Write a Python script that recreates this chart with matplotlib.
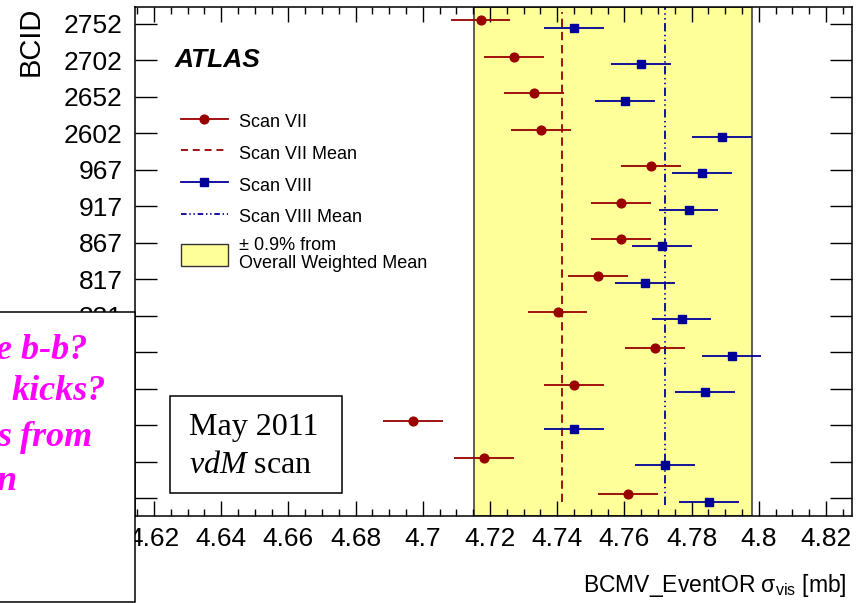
import matplotlib
matplotlib.use('Agg')
import matplotlib.pyplot as plt
from matplotlib import font_manager
from matplotlib.lines import Line2D
from matplotlib.patches import Patch, Rectangle
import numpy as np

# ---------------- data ----------------
bcid_labels = ['81', '131', '181', '231', '281', '331', '817', '867', '917', '967',
               '2602', '2652', '2702', '2752']
scan7 = [4.7610, 4.7182, 4.6971, 4.7451, 4.7691, 4.7401, 4.7522, 4.7591, 4.7591,
         4.7680, 4.7352, 4.7332, 4.7271, 4.7172]
scan7_err = [0.0089, 0.0089, 0.0089, 0.0089, 0.0089, 0.0089, 0.0089, 0.0089, 0.0089,
             0.0089, 0.0089, 0.0089, 0.0089, 0.0089]
scan8 = [4.7851, 4.7720, 4.7451, 4.7840, 4.7919, 4.7770, 4.7661, 4.7712, 4.7791,
         4.7831, 4.7890, 4.7602, 4.7650, 4.7451]
scan8_err = [0.0089, 0.0089, 0.0089, 0.0089, 0.0089, 0.0089, 0.0089, 0.0089, 0.0089,
             0.0089, 0.0089, 0.0089, 0.0089, 0.0089]
scan7_mean = 4.7413
scan8_mean = 4.7721
band_lo, band_hi = 4.7152, 4.7979
xtick_values = [4.62, 4.64, 4.66, 4.68, 4.70, 4.72, 4.74, 4.76, 4.78, 4.80, 4.82]
xtick_labels = ['4.62', '4.64', '4.66', '4.68', '4.7', '4.72', '4.74', '4.76', '4.78', '4.8', '4.82']
legend_labels = ['Scan VII', 'Scan VII Mean', 'Scan VIII', 'Scan VIII Mean',
                 '± 0.9% from\nOverall Weighted Mean']

# ---------------- fonts ----------------
names = {f.name for f in font_manager.fontManager.ttflist}
SANS = 'Liberation Sans' if 'Liberation Sans' in names else 'DejaVu Sans'
SERIF = 'Liberation Serif' if 'Liberation Serif' in names else 'DejaVu Serif'
plt.rcParams['font.family'] = [SANS, 'DejaVu Sans']
plt.rcParams['mathtext.fontset'] = 'custom'
plt.rcParams['mathtext.rm'] = SANS
plt.rcParams['mathtext.it'] = SERIF + ':italic'
plt.rcParams['lines.scale_dashes'] = False

W, H = 865, 603
def fx(px):
    return px / W
def fy(py):
    return 1 - py / H

red = '#990000'
blue = '#000099'
yellow = '#ffff99'

fig = plt.figure(figsize=(W / 100, H / 100), dpi=100)
ax = fig.add_axes([fx(135), fy(516), (852 - 135) / W, (516 - 7) / H])

ypos = np.arange(len(bcid_labels))

ax.axvspan(band_lo, band_hi, facecolor=yellow, edgecolor='#333333', lw=1.1, zorder=0)
ax.plot([scan7_mean, scan7_mean], [-0.1, 13.33], color=red, lw=1.3,
        ls=(0, (6, 3.5)), zorder=2)
ax.plot([scan8_mean, scan8_mean], [-0.2, 13.47], color=blue, lw=1.3,
        ls=(0, (6, 2.5, 1, 2.5, 1, 2.5)), zorder=2)

ax.errorbar(scan7, ypos + 0.1, xerr=scan7_err, fmt='o', color=red, ms=6.3,
            elinewidth=1.3, capsize=0, zorder=3)
ax.errorbar(scan8, ypos - 0.1, xerr=scan8_err, fmt='s', color=blue, ms=6.3,
            elinewidth=1.3, capsize=0, zorder=3)

ax.set_xlim(4.61435, 4.82774)
ax.set_ylim(-0.494, 13.466)
ax.set_xticks(xtick_values)
ax.set_xticklabels(xtick_labels)
ax.set_xticks(np.arange(4.615, 4.8276, 0.005), minor=True)
ax.set_yticks(ypos)
ax.set_yticklabels(bcid_labels)
ax.tick_params(axis='x', which='major', direction='in', length=10.8, width=1.0,
               top=True, bottom=True, labelsize=19, pad=8)
ax.tick_params(axis='x', which='minor', direction='in', length=5.2, width=1.0,
               top=True, bottom=True)
ax.tick_params(axis='y', which='major', direction='in', length=15.8, width=1.0,
               left=True, right=True, labelsize=19, pad=9)
for s in ax.spines.values():
    s.set_linewidth(1.1)
# labels fully hidden behind the overlaid note box are not visible in the reference
for lab in ax.get_yticklabels()[:5]:
    lab.set_visible(False)

handles = [Line2D([], [], color=red, marker='o', ms=6.3, lw=1.3),
           Line2D([], [], color=red, lw=1.3, ls=(0, (5, 3.5))),
           Line2D([], [], color=blue, marker='s', ms=6.3, lw=1.3),
           Line2D([], [], color=blue, lw=1.3, ls=(0, (4, 2, 1, 2, 1, 2))),
           Patch(facecolor=yellow, edgecolor='#333333', lw=1.0)]
leg = ax.legend(handles, legend_labels, loc='upper left',
                bbox_to_anchor=(fx(181), fy(110)), bbox_transform=fig.transFigure,
                frameon=False, prop={'family': SANS, 'size': 13},
                handlelength=2.6, handleheight=1.55, handletextpad=0.6,
                labelspacing=0.5, borderpad=0, borderaxespad=0)
for t in leg.get_texts():
    t.set_linespacing(1.12)

fig.text(fx(175), fy(67), 'ATLAS', fontsize=19, fontweight='bold', fontstyle='italic',
         family=SANS, ha='left', va='baseline')

# axis titles
fig.text(fx(847), fy(592), r'BCMV_EventOR σ$_{\mathrm{vis}}$ [mb]', fontsize=16.5,
         family=SANS, ha='right', va='baseline')
fig.text(fx(31), fy(7), 'BCID', fontsize=21, rotation=90, ha='center', va='top')

# vdM box
fig.add_artist(Rectangle((fx(170), fy(493)), 172 / W, 97 / H, transform=fig.transFigure,
                         facecolor='white', edgecolor='black', lw=1.1, zorder=5))
fig.text(fx(189), fy(435), 'May 2011', fontsize=23, family=SERIF, ha='left',
         va='baseline', zorder=6)
fig.text(fx(189), fy(473), r'$\mathit{vdM}$ scan', fontsize=23, family=SERIF,
         ha='left', va='baseline', zorder=6)

# overlay box with magenta text
fig.add_artist(Rectangle((fx(-5), fy(602)), 140 / W, (602 - 312) / H,
                         transform=fig.transFigure, facecolor='white',
                         edgecolor='black', lw=1.1, zorder=5))
mag = dict(fontsize=26, family=SERIF, fontweight='bold', fontstyle='italic',
           color='#ff00ff', ha='left', va='baseline', zorder=6)
fig.text(fx(-4), fy(359), 'e b-b?', **mag)
fig.text(fx(12), fy(400), 'kicks?', **mag)
fig.text(fx(-3), fy(446), 's from', **mag)
fig.text(fx(-4), fy(490), 'n', **mag)

fig.savefig('out.png', dpi=100)
